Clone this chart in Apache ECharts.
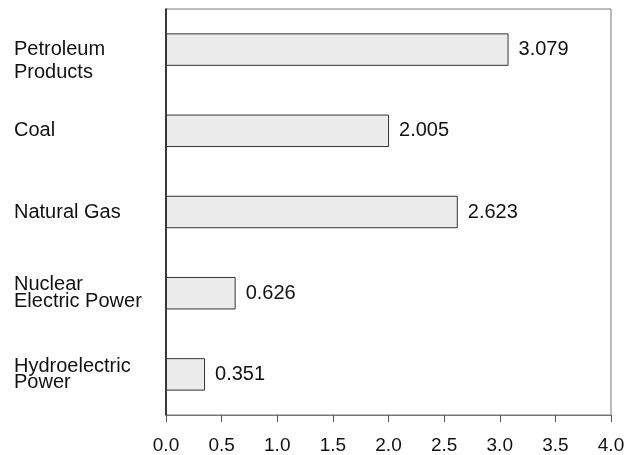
<!DOCTYPE html>
<html><head><meta charset="utf-8">
<script src="https://cdn.jsdelivr.net/npm/echarts@6/dist/echarts.min.js"></script>
<style>html,body{margin:0;padding:0;background:#fff}#c{width:624px;height:455px}</style>
</head><body><div id="c"></div>
<script>
const categories = ['Petroleum\nProducts', 'Coal', 'Natural Gas', 'Nuclear\nElectric Power', 'Hydroelectric\nPower'];
const values = [3.079, 2.005, 2.623, 0.626, 0.351];
const xTicks = ['0.0','0.5','1.0','1.5','2.0','2.5','3.0','3.5','4.0'];

const FONT = 'Liberation Sans';
const lineHeights = [23, 20, 20, 17, 16];
const leadBlank = [true, false, false, false, false];

const chart = echarts.init(document.getElementById('c'));
chart.setOption({
  animation: false,
  grid: {left: 166, top: 9, right: 13, bottom: 40, outerBoundsMode: 'none', containLabel: false,
    show: true, borderColor: '#777', borderWidth: 1, backgroundColor: 'transparent'},
  xAxis: {
    type: 'value', min: 0, max: 4, interval: 0.5,
    axisLine: {show: true, lineStyle: {color: '#777', width: 1}},
    axisTick: {show: true, length: 7, lineStyle: {color: '#555'}},
    splitLine: {show: false},
    axisLabel: {margin: 21, color: '#111', fontFamily: FONT, fontSize: 19,
      formatter: v => xTicks[Math.round(v / 0.5)]}
  },
  yAxis: {
    type: 'category', inverse: true,
    data: categories.map((c, i) => ({value: (leadBlank[i] ? '\n' : '') + c,
      textStyle: {align: 'left', lineHeight: lineHeights[i]}})),
    axisLine: {show: true, lineStyle: {color: '#111', width: 1.5}},
    axisTick: {show: false},
    axisLabel: {align: 'left', margin: 152, color: '#111', fontFamily: FONT, fontSize: 20}
  },
  series: [{
    type: 'bar', data: values, barWidth: '40%',
    itemStyle: {color: '#ececec', borderColor: '#333', borderWidth: 1},
    label: {show: true, position: 'right', distance: 10, color: '#111', fontFamily: FONT, fontSize: 20,
      formatter: p => values[p.dataIndex].toFixed(3)}
  }]
});
</script></body></html>
